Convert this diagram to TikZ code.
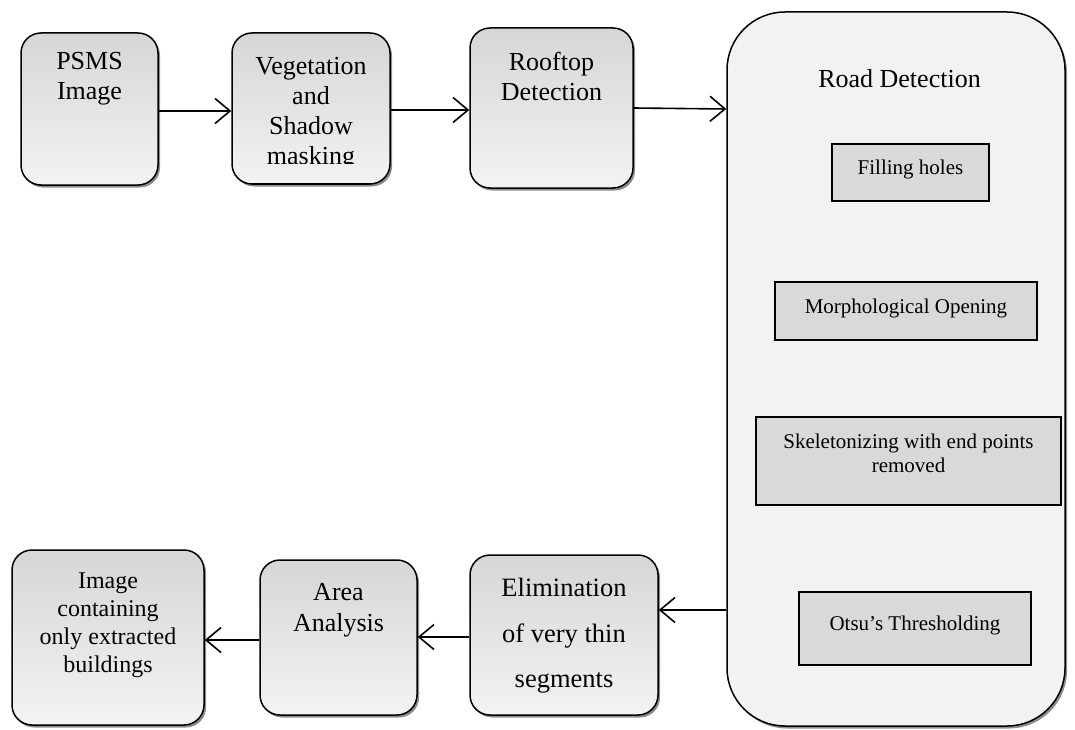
\documentclass[tikz,border=0pt]{standalone}
\usepackage{fontspec}
\setmainfont{Liberation Serif}
\usetikzlibrary{arrows.meta,shadows}
\definecolor{boxtop}{HTML}{D6D6D6}
\definecolor{boxbot}{HTML}{F3F3F3}
\definecolor{bigfill}{HTML}{F2F2F2}
\definecolor{innerfill}{HTML}{D9D9D9}
\begin{document}
\begin{tikzpicture}[x=1pt,y=-1pt,
  shad/.style={drop shadow={shadow xshift=2pt,shadow yshift=-2.5pt,opacity=0.75,fill=gray!80!black}},
  box/.style={draw,line width=1.5pt,rounded corners=20pt,top color=boxtop,bottom color=boxbot,inner sep=0pt,shad},
  bigbox/.style={draw,line width=1.5pt,rounded corners=58pt,fill=bigfill,inner sep=0pt,shad},
  inbox/.style={draw,line width=1.5pt,fill=innerfill,inner sep=0pt},
  bigtxt/.style={font=\fontsize{26}{30}\selectfont,align=center,inner sep=0pt,anchor=north},
  smalltxt/.style={font=\fontsize{21}{24}\selectfont,align=center,inner sep=0pt,anchor=north},
  arr/.style={line width=1.6pt,-{Straight Barb[length=15pt,width=25pt,line width=1.6pt]}}]
\useasboundingbox (0,0) rectangle (1075,730);

% top row boxes
\node[box,minimum width=137pt,minimum height=152pt] (psms) at (89.5,109) {};
\node[box,minimum width=158pt,minimum height=151pt] (veg) at (311,108.5) {};
\node[box,minimum width=163pt,minimum height=160pt] (roof) at (551.5,108) {};

% road detection container
\node[bigbox,minimum width=338pt,minimum height=714pt] (road) at (896,369) {};

% bottom row boxes
\node[box,minimum width=188pt,minimum height=160pt] (elim) at (564,635) {};
\node[box,minimum width=157pt,minimum height=155pt] (area) at (338.5,637.5) {};
\node[box,minimum width=192pt,minimum height=175pt] (img) at (108,637.5) {};

% inner boxes
\node[inbox,minimum width=157pt,minimum height=57pt] (fill) at (910.5,172.5) {};
\node[inbox,minimum width=262pt,minimum height=58pt] (morph) at (906,311) {};
\node[inbox,minimum width=305pt,minimum height=88pt] (skel) at (908.5,461) {};
\node[inbox,minimum width=232pt,minimum height=73pt] (otsu) at (915,628.5) {};

% texts
\node[bigtxt] (tpsms) at (89.5,52) {PSMS\\Image};
\begin{scope}
\clip (231,30) rectangle (392,164);
\node[bigtxt] (tveg) at (311,57) {Vegetation\\and\\Shadow\\masking};
\end{scope}
\node[bigtxt] (troof) at (551.5,52) {Rooftop\\Detection};
\node[bigtxt] (troad) at (899.5,69) {Road Detection};
\node[bigtxt,font=\fontsize{26.5}{45.5}\selectfont] (telim) at (564,578) {Elimination\\of very thin\\segments};
\node[bigtxt,font=\fontsize{26}{31}\selectfont] (tarea) at (338.5,583) {Area\\Analysis};
\node[bigtxt,font=\fontsize{24}{27.7}\selectfont] (timg) at (108,573) {Image\\containing\\only extracted\\buildings};

\node[smalltxt] (tfill) at (910.5,159.5) {Filling holes};
\node[smalltxt] (tmorph) at (906,298.5) {Morphological Opening};
\node[smalltxt] (tskel) at (908.5,433.5) {Skeletonizing with end points\\removed};
\node[smalltxt] (totsu) at (915,616) {Otsu’s Thresholding};

% connectors
\draw[arr] (psms.east |- 0,111) -- (veg.west |- 0,111);
\draw[arr] (veg.east |- 0,110) -- (roof.west |- 0,110);
\draw[arr] (roof.east |- 0,108) -- (road.west |- 0,109);
\draw[arr] (road.west |- 0,610) -- (elim.east |- 0,610);
\draw[arr] (elim.west |- 0,637) -- (area.east |- 0,637);
\draw[arr] (area.west |- 0,640) -- (img.east |- 0,640);
\end{tikzpicture}
\end{document}
